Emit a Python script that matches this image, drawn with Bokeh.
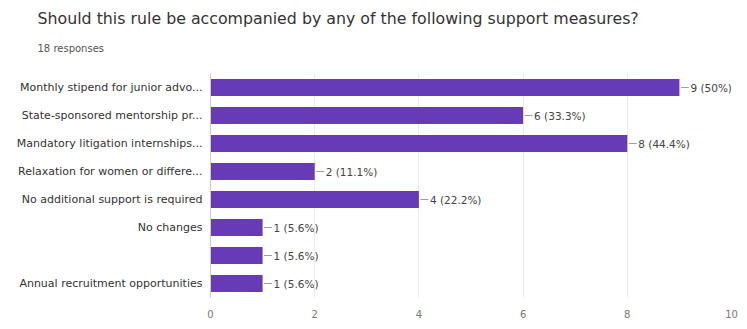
from bokeh.plotting import figure
from bokeh.models import FactorRange, Range1d, Title, FixedTicker, ColumnDataSource
from bokeh.core.properties import value
from bokeh.embed import file_html
from bokeh.resources import INLINE

title_text = "Should this rule be accompanied by any of the following support measures?"
subtitle_text = "18 responses"
total = 18
categories = [
    "Monthly stipend for junior advo...",
    "State-sponsored mentorship pr...",
    "Mandatory litigation internships...",
    "Relaxation for women or differe...",
    "No additional support is required",
    "No changes",
    " ",
    "Annual recruitment opportunities",
]
counts = [9, 6, 8, 2, 4, 1, 1, 1]
x_ticks = [0, 2, 4, 6, 8, 10]

def fmt(c):
    pct = round(100.0 * c / total, 1)
    s = f"{pct:.1f}".rstrip("0").rstrip(".")
    return f"{c} ({s}%)"

labels = [fmt(c) for c in counts]
src = ColumnDataSource(dict(
    cat=categories, cnt=counts, lab=labels,
    x0=[c + 0.03 for c in counts], x1=[c + 0.18 for c in counts],
))

FONT = "DejaVu Sans"
p = figure(width=747, height=329, output_backend="svg", toolbar_location=None,
           y_range=FactorRange(*reversed(categories), range_padding=0),
           x_range=Range1d(0, 10), title=None,
           min_border_left=210, min_border_right=16, min_border_top=73, min_border_bottom=32)
p.outline_line_color = None

p.hbar(y="cat", right="cnt", left=0, height=0.61, source=src,
       fill_color="#673ab7", line_color=None)
p.segment(x0="x0", y0="cat", x1="x1", y1="cat", source=src,
          line_color="#9e9e9e", line_width=1)
p.text(x="cnt", y="cat", text="lab", source=src, x_offset=11,
       text_baseline="middle", text_align="left", text_font_size="10.5px",
       text_color="#444444", text_font=value(FONT))

p.xaxis.ticker = FixedTicker(ticks=x_ticks)
p.xaxis.axis_line_color = None
p.xaxis.major_tick_line_color = None
p.xaxis.minor_tick_line_color = None
p.xaxis.major_label_text_font_size = "10px"
p.xaxis.major_label_text_color = "#777777"
p.xaxis.major_label_text_font = FONT
p.xaxis.major_label_standoff = 6

p.yaxis.axis_line_color = "#cccccc"
p.yaxis.major_tick_line_color = None
p.yaxis.minor_tick_line_color = None
p.yaxis.major_label_text_font_size = "11px"
p.yaxis.major_label_text_color = "#333333"
p.yaxis.major_label_text_font = FONT
p.yaxis.major_label_standoff = 2

p.xgrid.ticker = FixedTicker(ticks=x_ticks)
p.xgrid.grid_line_color = "#ebebeb"
p.ygrid.grid_line_color = None

p.add_layout(Title(text=subtitle_text, align="left", offset=-173, text_font_size="10px",
                   text_color="#555555", text_font=FONT, text_font_style="normal",
                   standoff=40), "above")
p.add_layout(Title(text=title_text, align="left", offset=-173, text_font_size="15.8px",
                   text_color="#333333", text_font=FONT, text_font_style="normal",
                   standoff=-14), "above")

open("out.html", "w").write(file_html(p, INLINE))
